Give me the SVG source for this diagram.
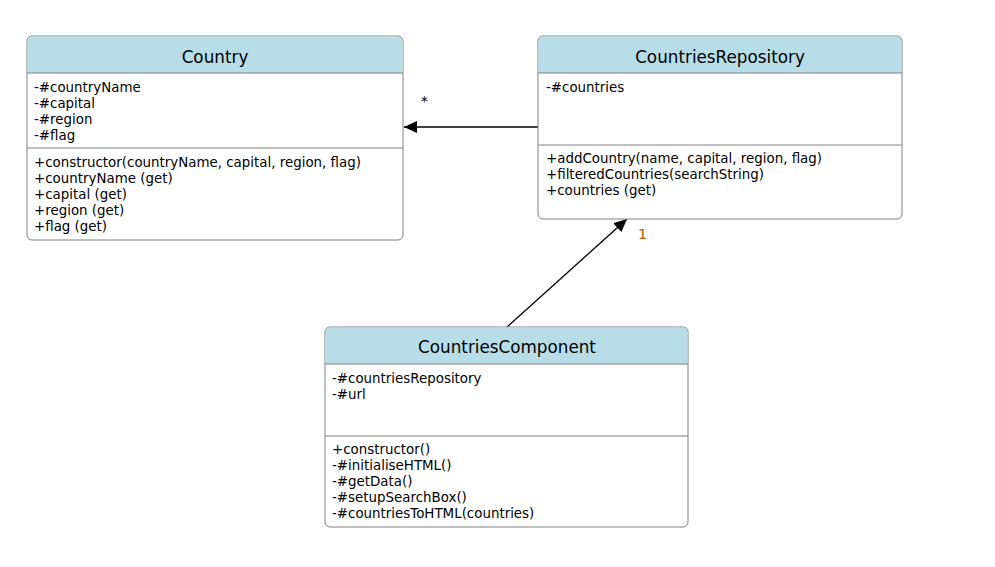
<svg xmlns="http://www.w3.org/2000/svg" width="995" height="567" viewBox="0 0 995 567">
<style>
.box{fill:#ffffff;stroke:#808080;stroke-width:1}
.hdr{fill:#b7dde8;stroke:none}
.sep{stroke:#808080;stroke-width:1}
.title{font-family:"DejaVu Sans",Verdana,sans-serif;font-size:16.8px;fill:#000;text-anchor:middle}
.t{font-family:"DejaVu Sans",Verdana,sans-serif;font-size:13.4px;fill:#000}
.conn{stroke:#000;stroke-width:1.3;fill:none}
</style>
<defs>
<marker id="arr" markerWidth="14" markerHeight="12" refX="13" refY="6" orient="auto" markerUnits="userSpaceOnUse">
<path d="M0,0 L13,6 L0,12 Z" fill="#000"/>
</marker>
</defs>
<rect width="995" height="567" fill="#fff"/>
<g id="connectors">
<line class="conn" x1="538" y1="127" x2="404" y2="127" marker-end="url(#arr)"/>
<text class="t" x="421" y="106">*</text>
<line class="conn" x1="507" y1="327" x2="627" y2="219" marker-end="url(#arr)"/>
<text x="638" y="239" style="font-family:'DejaVu Sans',Verdana,sans-serif;font-size:14.5px;fill:#b06000">1</text>
</g>
<g id="Country">
<rect class="box" x="27" y="36" width="376" height="204" rx="5"/>
<path class="hdr" d="M32,36.5 H398 A4.5,4.5 0 0 1 402.5,41 V73 H27.5 V41 A4.5,4.5 0 0 1 32,36.5 Z"/>
<line class="sep" x1="27" y1="73" x2="403" y2="73"/>
<line class="sep" x1="27" y1="148" x2="403" y2="148"/>
<text class="title" x="215" y="63">Country</text>
<text class="t" x="34" y="92">-#countryName</text>
<text class="t" x="34" y="108">-#capital</text>
<text class="t" x="34" y="124">-#region</text>
<text class="t" x="34" y="140">-#flag</text>
<text class="t" x="34" y="167">+constructor(countryName, capital, region, flag)</text>
<text class="t" x="34" y="183">+countryName (get)</text>
<text class="t" x="34" y="199">+capital (get)</text>
<text class="t" x="34" y="215">+region (get)</text>
<text class="t" x="34" y="231">+flag (get)</text>
</g>
<g id="CountriesRepository">
<rect class="box" x="538" y="36" width="364" height="183" rx="5"/>
<path class="hdr" d="M543,36.5 H897 A4.5,4.5 0 0 1 901.5,41 V73 H538.5 V41 A4.5,4.5 0 0 1 543,36.5 Z"/>
<line class="sep" x1="538" y1="73" x2="902" y2="73"/>
<line class="sep" x1="538" y1="145" x2="902" y2="145"/>
<text class="title" x="720" y="63">CountriesRepository</text>
<text class="t" x="546" y="92">-#countries</text>
<text class="t" x="546" y="163">+addCountry(name, capital, region, flag)</text>
<text class="t" x="546" y="179">+filteredCountries(searchString)</text>
<text class="t" x="546" y="195">+countries (get)</text>
</g>
<g id="CountriesComponent">
<rect class="box" x="325" y="327" width="363" height="200" rx="5"/>
<path class="hdr" d="M330,327.5 H683 A4.5,4.5 0 0 1 687.5,332 V364 H325.5 V332 A4.5,4.5 0 0 1 330,327.5 Z"/>
<line class="sep" x1="325" y1="364" x2="688" y2="364"/>
<line class="sep" x1="325" y1="436" x2="688" y2="436"/>
<text class="title" x="507" y="353">CountriesComponent</text>
<text class="t" x="332" y="383">-#countriesRepository</text>
<text class="t" x="332" y="399">-#url</text>
<text class="t" x="332" y="454">+constructor()</text>
<text class="t" x="332" y="470">-#initialiseHTML()</text>
<text class="t" x="332" y="486">-#getData()</text>
<text class="t" x="332" y="502">-#setupSearchBox()</text>
<text class="t" x="332" y="518">-#countriesToHTML(countries)</text>
</g>
</svg>
